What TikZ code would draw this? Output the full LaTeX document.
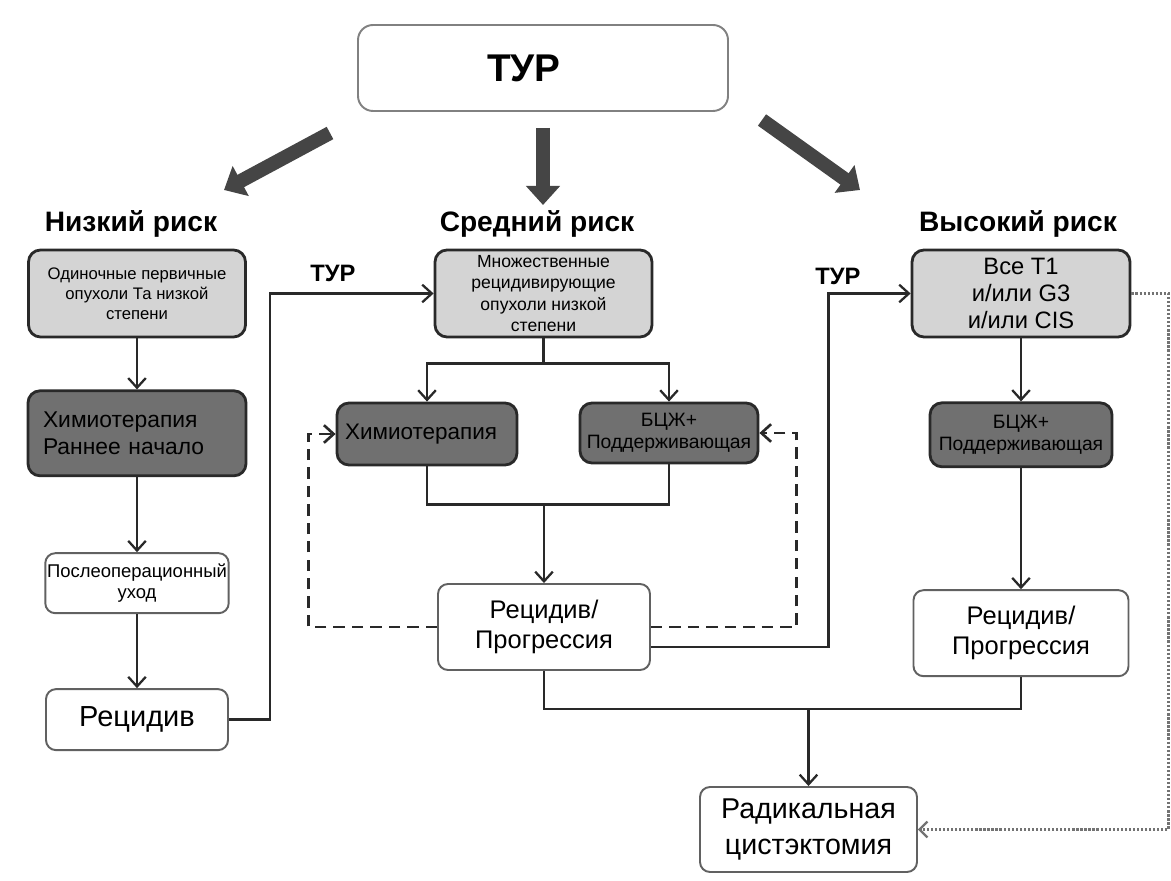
\documentclass[tikz,border=0pt]{standalone}
\usepackage{fontspec}
\setmainfont{Liberation Sans}
\usetikzlibrary{arrows.meta, positioning, calc}
\definecolor{clight}{gray}{0.83}
\definecolor{cdark}{gray}{0.44}
\definecolor{cline}{gray}{0.16}
\definecolor{cedge}{gray}{0.38}
\definecolor{cfat}{gray}{0.27}
\definecolor{cdot}{gray}{0.45}

\begin{document}
\begin{tikzpicture}[
    box/.style={draw=cline, line width=1.6pt, rounded corners=0.24cm, align=center, inner sep=1pt, fill=#1},
    box/.default=clight,
    wbox/.style={draw=cedge, line width=1.1pt, rounded corners=0.2cm, align=center, inner sep=1pt, fill=white},
    head/.style={font=\fontsize{16}{18}\selectfont\bfseries, anchor=base},
    turlbl/.style={font=\fontsize{13.5}{15}\selectfont\bfseries, anchor=base},
    arrow/.style={-{Straight Barb[length=5.5pt,width=10pt]}, line width=1.3pt, draw=cline},
    link/.style={line width=1.3pt, draw=cline},
    fat/.style={line width=0.28cm, draw=cfat, -{Triangle[width=0.66cm,length=0.38cm]}},
    dashback/.style={arrow, line width=1.5pt, dash pattern=on 6.5pt off 4pt},
    bypass/.style={-{Straight Barb[length=4.5pt,width=9pt]}, draw=cdot, line width=1.3pt, densely dotted}
]
\useasboundingbox (0,0) rectangle (23.42,-17.62);

% top
\node[wbox, draw=cedge!80, minimum width=7.4cm, minimum height=1.72cm, rounded corners=0.3cm,
      font=\fontsize{22}{24}\selectfont\bfseries] (tur) at (10.86,-1.36) {ТУР\hspace*{0.76cm}};

\coordinate (fl0) at (6.6,-2.66);   \coordinate (fl1) at (4.48,-3.8);
\coordinate (fm0) at (10.86,-2.56); \coordinate (fm1) at (10.86,-4.1);
\coordinate (fr0) at (15.24,-2.4);  \coordinate (fr1) at (17.2,-3.8);
\draw[fat] (fl0) -- (fl1);
\draw[fat] (fm0) -- (fm1);
\draw[fat] (fr0) -- (fr1);

\node[head] (hlow) at (2.62,-4.64) {Низкий риск};
\node[head] (hmid) at (10.74,-4.64) {Средний риск};
\node[head] (hhigh) at (20.36,-4.64) {Высокий риск};

% low risk
\node[box, minimum width=4.34cm, minimum height=1.74cm, font=\fontsize{9.5}{11.4}\selectfont] (low1) at (2.74,-5.87)
    {Одиночные первичные\\опухоли Та низкой\\степени};
\node[box=cdark, below=1.02cm of low1, minimum width=4.36cm, minimum height=1.7cm, text width=3.76cm,
      inner xsep=0.3cm, align=left, font=\fontsize{13}{15.4}\selectfont] (low2) {Химиотерапия\\Раннее начало};
\node[wbox, below=1.5cm of low2, minimum width=3.64cm, minimum height=1.2cm, font=\fontsize{10.5}{12}\selectfont] (low3)
    {Послеоперационный\\уход};
\node[wbox, below=1.48cm of low3, minimum width=3.64cm, minimum height=1.22cm, font=\fontsize{16.5}{19}\selectfont] (low4) {Рецидив};

% intermediate risk
\node[box, minimum width=4.34cm, minimum height=1.74cm, font=\fontsize{10}{12.2}\selectfont] (mid1) at (10.87,-5.87)
    {Множественные\\рецидивирующие\\опухоли низкой\\степени};
\node[box=cdark, minimum width=3.6cm, minimum height=1.24cm, text width=3.28cm, inner xsep=0.16cm, align=left,
      font=\fontsize{12.8}{15}\selectfont] (mid2) at (8.54,-8.68) {Химиотерапия};
\node[box=cdark, minimum width=3.56cm, minimum height=1.2cm, font=\fontsize{11}{12.5}\selectfont] (mid3) at (13.38,-8.66)
    {БЦЖ+\\Поддерживающая};
\node[wbox, minimum width=4.24cm, minimum height=1.72cm, font=\fontsize{14.5}{17}\selectfont] (mid4) at (10.88,-12.54)
    {Рецидив/\\Прогрессия};

% high risk
\node[box, minimum width=4.36cm, minimum height=1.74cm, font=\fontsize{13.5}{15.4}\selectfont] (high1) at (20.42,-5.87)
    {Все Т1\\и/или G3\\и/или CIS};
\node[box=cdark, below=1.26cm of high1, minimum width=3.64cm, minimum height=1.28cm, font=\fontsize{11}{12.5}\selectfont] (high2)
    {БЦЖ+\\Поддерживающая};
\node[wbox, below=2.42cm of high2, minimum width=4.3cm, minimum height=1.72cm, font=\fontsize{14.5}{17}\selectfont] (high3)
    {Рецидив/\\Прогрессия};

\node[wbox, minimum width=4.34cm, minimum height=1.7cm, font=\fontsize{16.3}{20}\selectfont] (cyst) at (16.17,-16.59)
    {Радикальная\\цистэктомия};

\node[turlbl] (tur1) at (6.66,-5.64) {ТУР};
\node[turlbl] (tur2) at (16.76,-5.7) {ТУР};

% connectors
\draw[arrow] (low1) -- (low2);
\draw[arrow] (low2) -- (low3);
\draw[arrow] (low3) -- (low4);
\draw[arrow] (low4.east) -- ++(0.82,0) |- (mid1.west);

\draw[arrow] (mid1.south) -- ++(0,-0.5) -| (mid2.north);
\draw[arrow] (mid1.south) -- ++(0,-0.5) -| (mid3.north);
\draw[link] (mid2.south) -- ++(0,-0.76) coordinate (jm) -| (mid3.south);
\draw[arrow] (jm -| mid4.north) -- (mid4.north);
\draw[dashback] (mid4.west) -| ([xshift=-0.54cm]mid2.west) -- (mid2.west);
\draw[dashback] (mid4.east) -| ([xshift=0.74cm]mid3.east) -- (mid3.east);
\draw[arrow] ([yshift=-0.4cm]mid4.east) -| ([xshift=-1.64cm]high1.west) -- (high1.west);

\draw[arrow] (high1) -- (high2);
\draw[arrow] (high2) -- (high3);

\draw[link] (mid4.south) -- ++(0,-0.76) coordinate (jb) -| (high3.south);
\draw[arrow] (jb -| cyst.north) -- (cyst.north);
\draw[bypass] (high1.east) -- ++(0.74,0) |- (cyst.east);

\end{tikzpicture}
\end{document}
